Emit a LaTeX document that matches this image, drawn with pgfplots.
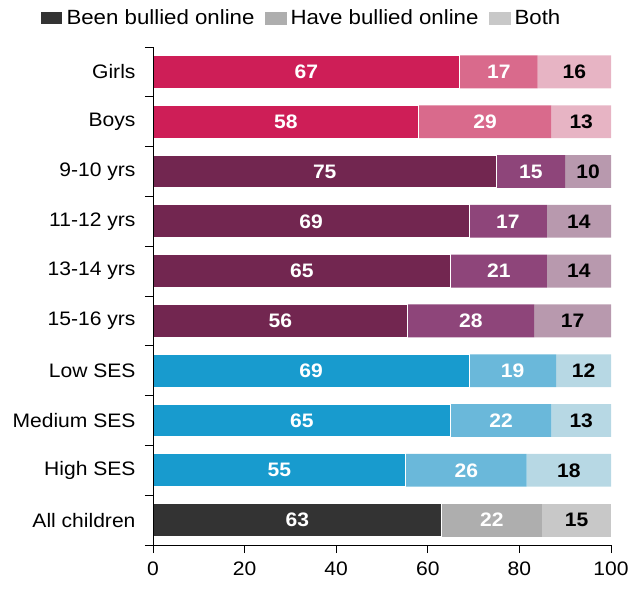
\documentclass[border=0pt]{standalone}
\usepackage{fontspec}
\setmainfont{Liberation Sans}[FakeStretch=1.08]
\usepackage{pgfplots}
\usepackage{pgfplotstable}
\pgfplotsset{compat=1.18}

\definecolor{pinkA}{HTML}{CE1E57}
\definecolor{pinkB}{HTML}{D96A8C}
\definecolor{pinkC}{HTML}{E7B4C4}
\definecolor{purA}{HTML}{722650}
\definecolor{purB}{HTML}{8E457A}
\definecolor{purC}{HTML}{B899AE}
\definecolor{bluA}{HTML}{189BCE}
\definecolor{bluB}{HTML}{6AB8DA}
\definecolor{bluC}{HTML}{B7D8E4}
\definecolor{gryA}{HTML}{333333}
\definecolor{gryB}{HTML}{AEAEAE}
\definecolor{gryC}{HTML}{C8C8C8}

\pgfplotstableread{
y v1 v2 v3
0 67 17 16
1 58 29 13
}\tgender
\pgfplotstableread{
y v1 v2 v3
2 75 15 10
3 69 17 14
4 65 21 14
5 55.6 27.6 16.8
}\tage
\pgfplotstableread{
y v1 v2 v3
6 69 19 12
7 65 22 13
8 55.2 26.4 18.4
}\tses
\pgfplotstableread{
y v1 v2 v3
9 63 22 15
}\tall

\newcommand{\chartfont}{\fontsize{19.5}{22}\selectfont}

\pgfplotsset{
  base/.style={
    scale only axis, width=458pt, height=498pt,
    xmin=0, xmax=100, ymin=-0.5, ymax=9.5, y dir=reverse,
    xbar stacked, bar width=0.66,
    at={(0pt,0pt)}, anchor=south west,
    /pgf/number format/assume math mode=true,
    nodes near coords={\pgfmathprintnumber[fixed,precision=0]{\pgfplotspointmeta}},
    every node near coord/.append style={font=\chartfont\bfseries, anchor=center},
  },
  s1/.style={fill=#1, draw=white, line width=1pt,
    every node near coord/.append style={text=white}},
  s2/.style={fill=#1, draw=none,
    every node near coord/.append style={text=white}},
  s3/.style={fill=#1, draw=none,
    every node near coord/.append style={text=black}},
}

\begin{document}
\begin{tikzpicture}
\begin{axis}[base, hide axis]
  \addplot[s1=pinkA] table[x=v1, y=y, meta=v1] {\tgender};
  \addplot[s2=pinkB] table[x=v2, y=y, meta=v2] {\tgender};
  \addplot[s3=pinkC] table[x=v3, y=y, meta=v3] {\tgender};
\end{axis}
\begin{axis}[base, hide axis]
  \addplot[s1=purA] table[x=v1, y=y, meta=v1] {\tage};
  \addplot[s2=purB] table[x=v2, y=y, meta=v2] {\tage};
  \addplot[s3=purC] table[x=v3, y=y, meta=v3] {\tage};
\end{axis}
\begin{axis}[base, hide axis]
  \addplot[s1=bluA] table[x=v1, y=y, meta=v1] {\tses};
  \addplot[s2=bluB] table[x=v2, y=y, meta=v2] {\tses};
  \addplot[s3=bluC] table[x=v3, y=y, meta=v3] {\tses};
\end{axis}
\begin{axis}[base, axis on top,
  axis x line*=bottom, axis y line*=left,
  axis line style={black, line width=0.8pt},
  tick align=outside, major tick length=8pt, minor tick length=8pt,
  tick style={black, line width=0.8pt},
  xtick={0,20,...,100},
  ytick={0,...,9},
  yticklabels={Girls,Boys,9-10 yrs,11-12 yrs,13-14 yrs,15-16 yrs,Low SES,Medium SES,High SES,All children},
  major y tick style={draw=none},
  minor ytick={-0.5,0.5,...,9.5},
  tick label style={font=\chartfont},
  yticklabel style={xshift=-6pt},
  xticklabel style={yshift=-5pt},
  legend style={at={(0.323,1)}, anchor=center, yshift=29pt, draw=none, fill=none,
    legend columns=-1, font=\fontsize{20.6}{23}\selectfont,
    /tikz/every odd column/.append style={column sep=2pt},
    /tikz/every even column/.append style={column sep=8pt}},
  legend image code/.code={\fill[#1] (0pt,-6.5pt) rectangle (22pt,6.5pt);},
]
  \addplot[s1=gryA] table[x=v1, y=y, meta=v1] {\tall};
  \addplot[s2=gryB] table[x=v2, y=y, meta=v2] {\tall};
  \addplot[s3=gryC] table[x=v3, y=y, meta=v3] {\tall};
  \legend{Been bullied online, Have bullied online, Both}
\end{axis}
\pgfresetboundingbox
\path[use as bounding box] (-153pt,-45pt) rectangle (478pt,545pt);
\end{tikzpicture}
\end{document}
